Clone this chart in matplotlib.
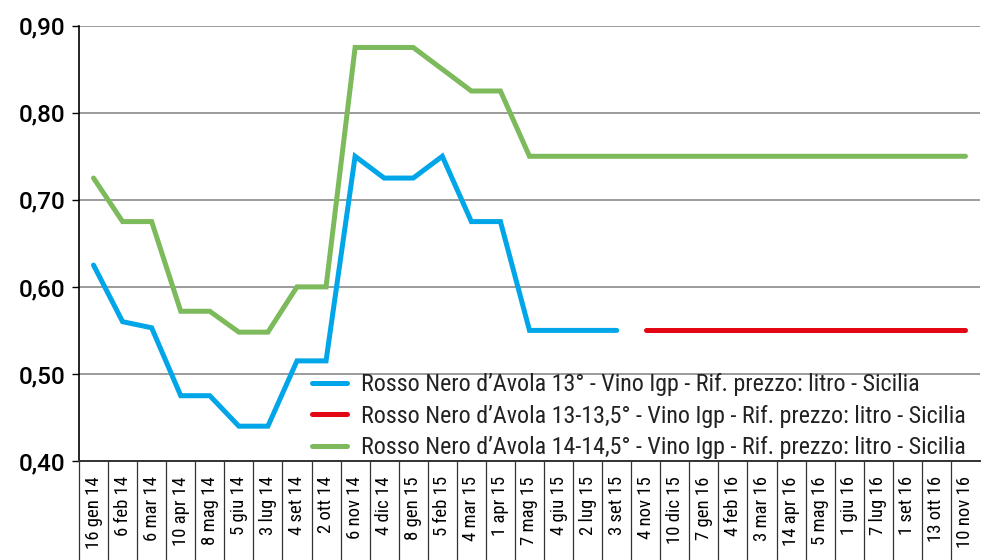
import numpy as np
import matplotlib
matplotlib.use("Agg")
import matplotlib.pyplot as plt
from matplotlib import font_manager

dates = ["16 gen 14", "6 feb 14", "6 mar 14", "10 apr 14", "8 mag 14", "5 giu 14",
         "3 lug 14", "4 set 14", "2 ott 14", "6 nov 14", "4 dic 14", "8 gen 15",
         "5 feb 15", "4 mar 15", "1 apr 15", "7 mag 15", "4 giu 15", "2 lug 15",
         "3 set 15", "4 nov 15", "10 dic 15", "7 gen 16", "4 feb 16", "3 mar 16",
         "14 apr 16", "5 mag 16", "1 giu 16", "7 lug 16", "1 set 16", "13 ott 16",
         "10 nov 16"]

nan = np.nan
rosso_13 = [0.625, 0.56, 0.553, 0.475, 0.475, 0.44, 0.44, 0.515, 0.515, 0.75,
            0.725, 0.725, 0.75, 0.675, 0.675, 0.55, 0.55, 0.55, 0.55,
            nan, nan, nan, nan, nan, nan, nan, nan, nan, nan, nan, nan]
rosso_13_135 = [nan] * 19 + [0.55] * 12
rosso_14_145 = [0.725, 0.675, 0.675, 0.572, 0.572, 0.548, 0.548, 0.60, 0.60, 0.875,
                0.875, 0.875, 0.85, 0.825, 0.825, 0.75, 0.75, 0.75, 0.75, 0.75,
                0.75, 0.75, 0.75, 0.75, 0.75, 0.75, 0.75, 0.75, 0.75, 0.75, 0.75]

series_labels = [
    "Rosso Nero d\u2019Avola 13° - Vino Igp - Rif. prezzo: litro - Sicilia",
    "Rosso Nero d\u2019Avola 13-13,5° - Vino Igp - Rif. prezzo: litro - Sicilia",
    "Rosso Nero d\u2019Avola 14-14,5° - Vino Igp - Rif. prezzo: litro - Sicilia",
]
colors = ["#00a6e8", "#e30613", "#7dba5c"]
y_ticks = [0.40, 0.50, 0.60, 0.70, 0.80, 0.90]

# pick a narrow sans for the labels when one is installed
available = {f.name for f in font_manager.fontManager.ttflist}
narrow = next((n for n in ["Roboto Condensed", "Liberation Sans Narrow",
                           "DejaVu Sans Condensed", "Open Sans Condensed",
                           "Liberation Sans"]
               if n in available), "DejaVu Sans")

fig = plt.figure(figsize=(9.94, 5.60), dpi=100)
ax = fig.add_axes([79 / 994, 1 - 461 / 560, (980 - 79) / 994, (461 - 25.7) / 560])

x = np.arange(len(dates))
for vals, col, lab in zip([rosso_13, rosso_13_135, rosso_14_145], colors, series_labels):
    ax.plot(x, vals, color=col, lw=3.6, label=lab,
            solid_capstyle="round", solid_joinstyle="miter", zorder=3)

ax.set_xlim(-0.5, len(dates) - 0.5)
ax.set_ylim(0.40, 0.90)

ax.set_yticks(y_ticks)
ax.set_yticklabels([f"{v:.2f}".replace(".", ",") for v in y_ticks],
                   fontsize=17.5, fontweight="medium", family="Roboto")
ax.tick_params(axis="y", direction="out", length=5, width=1, pad=5, colors="black")

ax.set_xticks(x)
ax.set_xticklabels(dates, rotation=90, fontsize=13.5, family=narrow, va="top")
ax.tick_params(axis="x", which="major", length=0, pad=11)
ax.set_xticks(np.arange(-0.5, len(dates) - 1, 1.0), minor=True)
ax.tick_params(axis="x", which="minor", direction="out", length=72, width=0.9,
               color="#333333")

ax.grid(axis="y", color="#8a8a8a", lw=1.2, zorder=1)
for s in ["top", "right"]:
    ax.spines[s].set_visible(False)
ax.spines["left"].set_linewidth(1.2)
ax.spines["bottom"].set_linewidth(1.4)
ax.spines["bottom"].set_color("#333333")

leg = ax.legend(loc="upper left", bbox_to_anchor=(312 / 994, 1 - 373 / 560),
                bbox_transform=fig.transFigure, frameon=False,
                prop={"family": narrow, "size": 17.3},
                handlelength=1.44, handletextpad=0.6, labelspacing=0.36,
                borderaxespad=0, borderpad=0)
for t in leg.get_texts():
    t.set_color("#222222")

fig.savefig("out.png", dpi=100)
